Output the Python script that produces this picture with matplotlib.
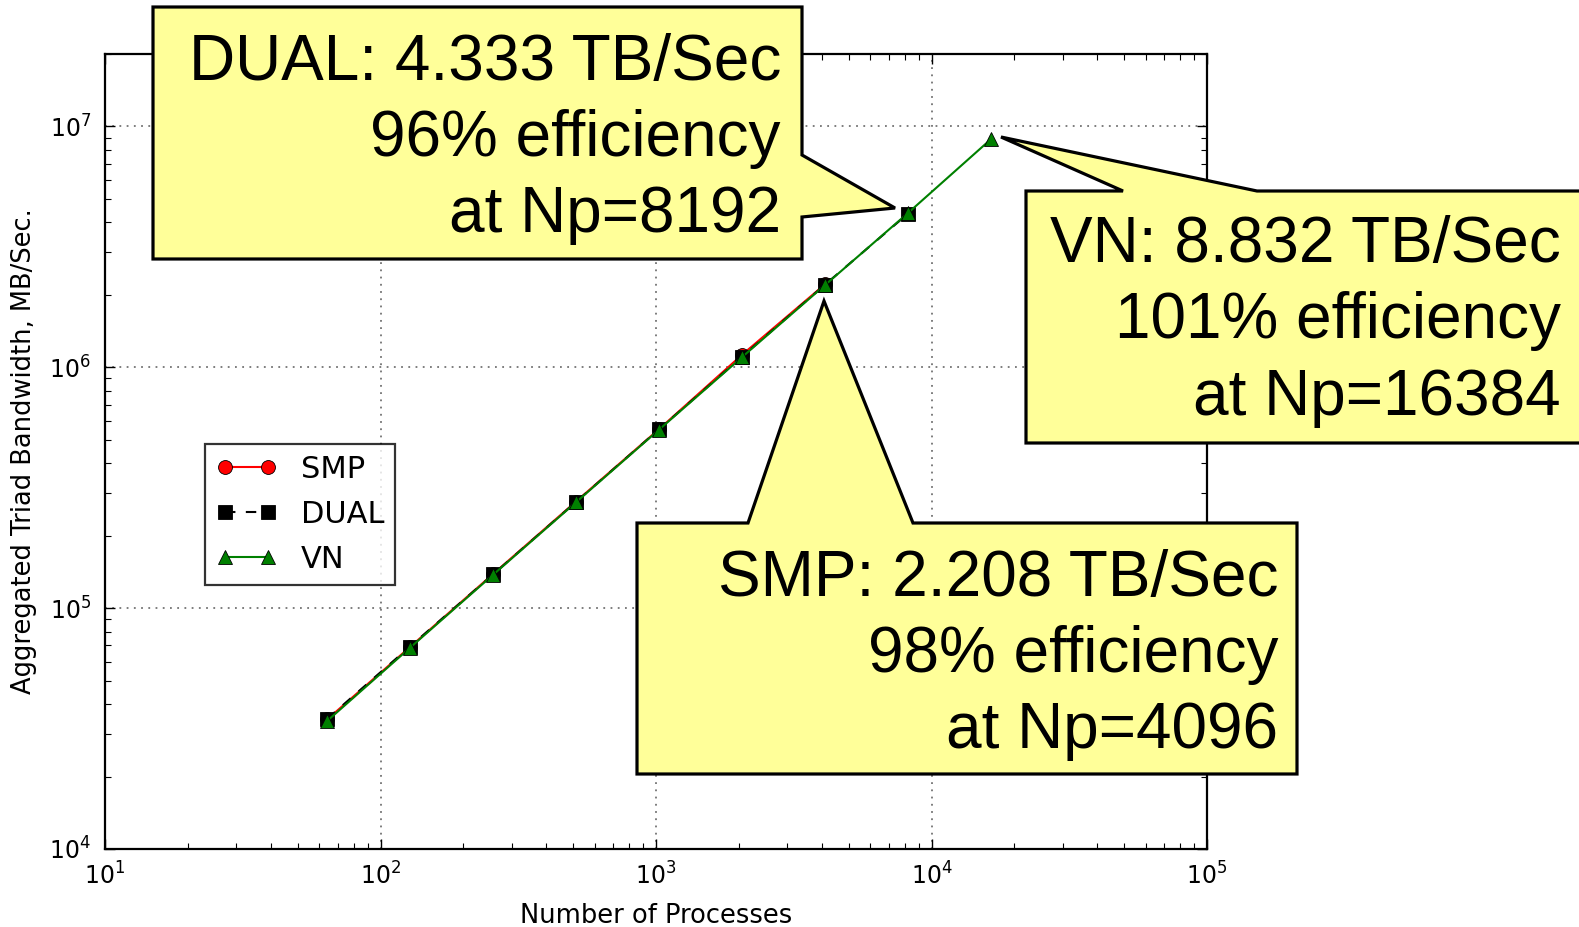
import numpy as np
import matplotlib
matplotlib.use("Agg")
import matplotlib.pyplot as plt
from matplotlib.patches import Polygon

# data: processes vs aggregated triad bandwidth (MB/Sec)
np_smp = [64, 128, 256, 512, 1024, 2048, 4096]
bw_smp = [34500, 69000, 138500, 277000, 553000, 1.125e6, 2.208e6]
np_dual = [64, 128, 256, 512, 1024, 2048, 4096, 8192]
bw_dual = [34700, 69300, 138000, 276000, 552000, 1.105e6, 2.20e6, 4.333e6]
np_vn = [64, 128, 256, 512, 1024, 2048, 4096, 8192, 16384]
bw_vn = [34000, 68500, 137500, 275000, 550000, 1.10e6, 2.19e6, 4.36e6, 8.832e6]

callout_dual = ["DUAL: 4.333 TB/Sec", "96% efficiency", "at Np=8192"]
callout_vn = ["VN: 8.832 TB/Sec", "101% efficiency", "at Np=16384"]
callout_smp = ["SMP: 2.208 TB/Sec", "98% efficiency", "at Np=4096"]

W, H = 1579, 927
fig = plt.figure(figsize=(W / 100, H / 100), dpi=100)
ax = fig.add_axes([105 / W, 1 - 849 / H, (1207 - 105) / W, (849 - 54) / H])

ax.plot(np_smp, bw_smp, '-o', color='red', lw=1.5, ms=10, mec='k', mew=0.6, label='SMP')
ax.plot(np_dual, bw_dual, 's', ls=(0, (5, 5)), color='black', lw=1.5, ms=10, mec='k', mew=0.6, label='DUAL')
ax.plot(np_vn, bw_vn, '-^', color='green', lw=1.5, ms=10, mec='k', mew=0.6, label='VN')

ax.set_xscale('log')
ax.set_yscale('log')
ax.set_xlim(10, 1e5)
ax.set_ylim(1e4, 2e7)
ax.grid(True, which='major', color='0.45', linestyle=(0, (1, 3)), lw=1.3)
ax.tick_params(which='both', direction='in', top=True, right=True, labelsize=17, pad=10)
ax.tick_params(which='major', length=7, width=1)
ax.tick_params(which='minor', length=4, width=0.8)
for s in ax.spines.values():
    s.set_linewidth(1.6)

ax.set_xlabel('Number of Processes', fontsize=18.5, labelpad=9)
ax.set_ylabel('Aggregated Triad Bandwidth, MB/Sec.', fontsize=18.5, labelpad=9)

leg = ax.legend(loc='upper left', bbox_to_anchor=(0.0907, 0.509), borderaxespad=0,
                numpoints=2, fontsize=22, fancybox=False, handlelength=2.0,
                handletextpad=0.8, labelspacing=0.52, borderpad=0.35)
leg.get_frame().set_edgecolor('black')
leg.get_frame().set_linewidth(1.6)


def px(pts):
    return [(x / W, 1 - y / H) for x, y in pts]


def callout(shape, lines, xr, baselines):
    fig.add_artist(Polygon(px(shape), closed=True, transform=fig.transFigure,
                           facecolor='#ffff99', edgecolor='black', lw=2.3,
                           joinstyle='miter', zorder=5))
    for t, yb in zip(lines, baselines):
        fig.text(xr / W, 1 - yb / H, t, ha='right', va='baseline', fontsize=46,
                 family='Liberation Sans', zorder=6)


callout([(153, 7), (802, 7), (802, 155), (895, 208), (802, 217), (802, 259), (153, 259)],
        callout_dual, 781, [80, 156, 232])
callout([(1026, 191), (1123, 191), (1001, 137), (1257, 191), (1590, 191), (1590, 443), (1026, 443)],
        callout_vn, 1561, [262, 338, 415])
callout([(637, 523), (748, 523), (824, 301), (913, 523), (1297, 523), (1297, 774), (637, 774)],
        callout_smp, 1278, [596, 672, 748])

fig.savefig('out.png', dpi=100)
